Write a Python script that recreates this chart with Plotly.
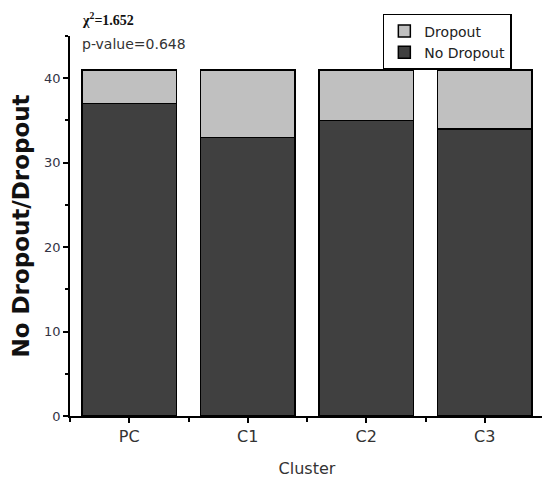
import plotly.graph_objs as go

# dados
clusters = ['PC', 'C1', 'C2', 'C3']
no_dropout = [37, 33, 35, 34]
dropout = [4, 8, 6, 7]

x_pos = list(range(len(clusters)))

barra_no = go.Bar(
    x=x_pos, y=no_dropout, name='No Dropout', width=0.8,
    marker=dict(color='#404040', line=dict(color='#000000', width=1.5))
)
barra_drop = go.Bar(
    x=x_pos, y=dropout, name='Dropout', width=0.8,
    marker=dict(color='#c0c0c0', line=dict(color='#000000', width=1.5))
)

fig = go.Figure(data=[barra_no, barra_drop])

# a página tem margem de 8px, por isso a figura é um pouco menor
fig.update_layout(
    barmode='stack',
    width=542, height=483,
    margin=dict(l=62, r=6, t=25, b=75),
    paper_bgcolor='white', plot_bgcolor='white',
    font=dict(family='DejaVu Sans, sans-serif', color='#333333', size=13),
    showlegend=True,
    legend=dict(
        x=0.66, y=1.058, xanchor='left', yanchor='top',
        traceorder='reversed',
        bordercolor='black', borderwidth=1.5,
        font=dict(size=14, color='#222222'),
        itemwidth=30, tracegroupgap=0,
    ),
    xaxis=dict(
        range=[-0.5, 3.5],
        tickvals=x_pos, ticktext=clusters,
        ticks='outside', ticklen=5, tickwidth=1.5, tickcolor='black',
        showline=True, linecolor='black', linewidth=1.5,
        showgrid=False, zeroline=False,
        tickfont=dict(size=16, color='#333333'),
        minor=dict(tick0=0.5, dtick=1, ticks='outside', ticklen=4,
                   tickwidth=1.5, tickcolor='black', showgrid=False),
        title=dict(text='Cluster', font=dict(size=16, color='#333333'), standoff=18),
    ),
    yaxis=dict(
        range=[0, 45],
        tickvals=[0, 10, 20, 30, 40],
        ticks='outside', ticklen=5, tickwidth=1.5, tickcolor='black',
        showline=True, linecolor='black', linewidth=1.5,
        showgrid=False, zeroline=False,
        tickfont=dict(size=13, color='#333344'),
        minor=dict(tick0=5, dtick=10, ticks='outside', ticklen=3,
                   tickwidth=1.5, tickcolor='black', showgrid=False),
        title=dict(text='<b>No Dropout/Dropout</b>',
                   font=dict(size=23, color='#111111'), standoff=8),
    ),
    annotations=[
        dict(text='<b>χ<sup>2</sup>=1.652</b>', x=0.021, y=1.044,
             xref='paper', yref='paper', xanchor='left', yanchor='middle',
             showarrow=False,
             font=dict(size=14, color='#111111', family='Liberation Serif, serif')),
        dict(text='p-value=0.648', x=0.021, y=0.979,
             xref='paper', yref='paper', xanchor='left', yanchor='middle',
             showarrow=False, font=dict(size=14, color='#333333')),
    ],
)

fig.write_html('out.html')
